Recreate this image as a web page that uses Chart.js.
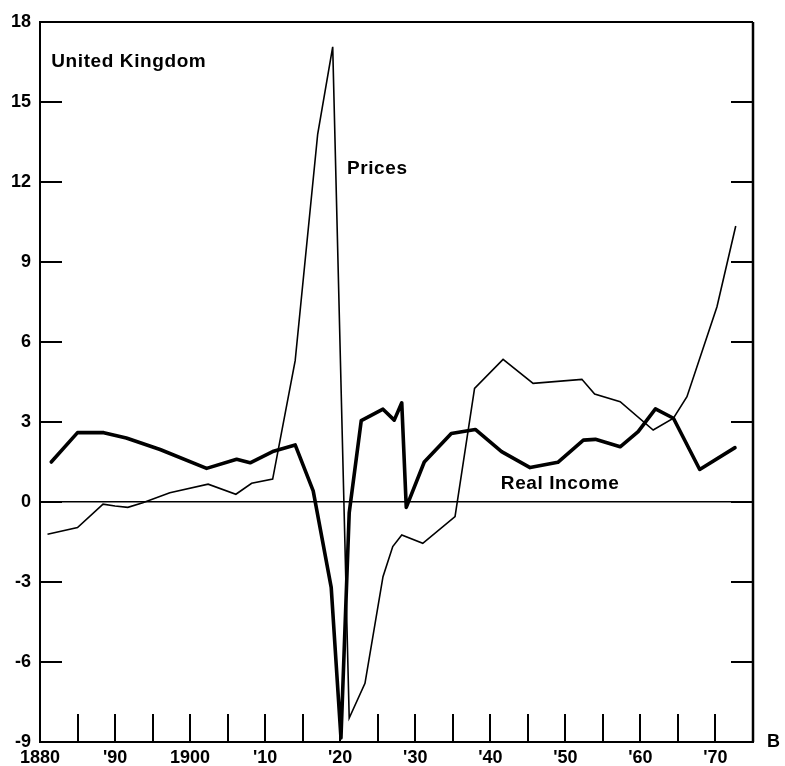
<!DOCTYPE html>
<html>
<head>
<meta charset="utf-8">
<title>United Kingdom — Prices and Real Income</title>
<script src="https://cdn.jsdelivr.net/npm/chart.js@4.4.1/dist/chart.umd.min.js"></script>
<style>
  html, body { margin: 0; padding: 0; background: #fff; }
  canvas { display: block; }
</style>
</head>
<body>
<canvas id="chart" width="785" height="766"></canvas>
<script>
// Annual rates of change (per cent), United Kingdom, 1880–1975.
const realIncomeYears = [1881.5, 1885, 1888.5, 1891.5, 1896, 1902.2, 1906.2, 1908, 1911, 1914,
  1916.4, 1918.8, 1920.1, 1921.2, 1922.8, 1925.7, 1927.2, 1928.2, 1928.8, 1931.2,
  1934.8, 1938, 1941.5, 1945.3, 1949, 1952.4, 1954, 1957.3, 1959.7, 1962,
  1964.4, 1967.9, 1972.6];
const realIncomeValues = [1.5, 2.6, 2.6, 2.4, 1.97, 1.26, 1.6, 1.47, 1.89, 2.14,
  0.42, -3.2, -8.85, -0.4, 3.05, 3.48, 3.07, 3.72, -0.2, 1.5,
  2.57, 2.72, 1.89, 1.29, 1.49, 2.32, 2.35, 2.07, 2.64, 3.49,
  3.14, 1.22, 2.04];

const pricesYears = [1881, 1885, 1888.4, 1890, 1891.7, 1893.7, 1897.3, 1902.4, 1906.1, 1908.2,
  1911, 1914, 1917, 1919, 1921.2, 1923.3, 1925.7, 1927, 1928.2, 1931,
  1935.3, 1937.9, 1941.7, 1945.7, 1952.2, 1953.9, 1957.3, 1961.7, 1964.4, 1966.2,
  1970.2, 1972.7];
const pricesValues = [-1.21, -0.96, -0.08, -0.15, -0.2, -0.03, 0.35, 0.67, 0.29, 0.7,
  0.86, 5.3, 13.8, 17.07, -8.1, -6.8, -2.8, -1.67, -1.24, -1.55,
  -0.55, 4.26, 5.35, 4.45, 4.6, 4.05, 3.76, 2.7, 3.14, 3.95,
  7.32, 10.35];

// Axis ticks
const xLabelYears = [1880, 1890, 1900, 1910, 1920, 1930, 1940, 1950, 1960, 1970];
const xLabels = ['1880', "'90", '1900', "'10", "'20", "'30", "'40", "'50", "'60", "'70"];
const xMarkYears = [1885, 1890, 1895, 1900, 1905, 1910, 1915, 1920, 1925, 1930,
  1935, 1940, 1945, 1950, 1955, 1960, 1965, 1970];
const yTickValues = [-9, -6, -3, 0, 3, 6, 9, 12, 15, 18];

// Text placed on the plot, anchored in data units
const notes = [
  { text: 'United Kingdom', x: 1881.5, y: 16.5 },
  { text: 'Prices', x: 1920.9, y: 12.5 },
  { text: 'Real Income', x: 1941.4, y: 0.68 }
];

const FONT = '"Liberation Sans", Arial, Helvetica, sans-serif';

const toPoints = (xs, ys) => xs.map((x, i) => ({ x, y: ys[i] }));

// Frame, inward tick marks and text notes
const framePlugin = {
  id: 'frame',
  afterDatasetsDraw(chart) {
    const { ctx, chartArea: a, scales } = chart;
    const xs = scales.x, ys = scales.y;
    ctx.save();
    ctx.strokeStyle = '#000';
    ctx.lineCap = 'butt';

    // top and right edges
    ctx.lineWidth = 2;
    ctx.beginPath();
    ctx.moveTo(a.left, a.top);
    ctx.lineTo(a.right, a.top);
    ctx.stroke();
    ctx.lineWidth = 2.5;
    ctx.beginPath();
    ctx.moveTo(a.right, a.top);
    ctx.lineTo(a.right, a.bottom);
    ctx.stroke();

    // inward ticks on both vertical axes
    ctx.lineWidth = 2;
    yTickValues.forEach(v => {
      if (v === ys.min || v === ys.max) return;
      const py = Math.round(ys.getPixelForValue(v));
      ctx.beginPath();
      ctx.moveTo(a.left, py);
      ctx.lineTo(a.left + 22, py);
      ctx.moveTo(a.right, py);
      ctx.lineTo(a.right - 22, py);
      ctx.stroke();
    });

    // inward ticks along the bottom axis
    xMarkYears.forEach(yr => {
      const px = Math.round(xs.getPixelForValue(yr));
      ctx.beginPath();
      ctx.moveTo(px, a.bottom);
      ctx.lineTo(px, a.bottom - 28);
      ctx.stroke();
    });

    // notes
    ctx.fillStyle = '#000';
    ctx.font = 'bold 19px ' + FONT;
    ctx.textAlign = 'left';
    ctx.textBaseline = 'middle';
    if ('letterSpacing' in ctx) ctx.letterSpacing = '0.6px';
    notes.forEach(n => {
      ctx.fillText(n.text, xs.getPixelForValue(n.x), ys.getPixelForValue(n.y));
    });

    // axis letter at the lower right
    ctx.font = 'bold 18px ' + FONT;
    if ('letterSpacing' in ctx) ctx.letterSpacing = '0px';
    ctx.fillText('B', a.right + 14, a.bottom);
    ctx.restore();
  }
};

new Chart(document.getElementById('chart'), {
  type: 'scatter',
  data: {
    datasets: [
      {
        label: 'Prices',
        data: toPoints(pricesYears, pricesValues),
        showLine: true,
        borderColor: '#000',
        borderWidth: 1.6,
        pointRadius: 0,
        borderJoinStyle: 'miter',
        tension: 0
      },
      {
        label: 'Real Income',
        data: toPoints(realIncomeYears, realIncomeValues),
        showLine: true,
        borderColor: '#000',
        borderWidth: 3.6,
        pointRadius: 0,
        borderJoinStyle: 'round',
        borderCapStyle: 'round',
        tension: 0
      }
    ]
  },
  options: {
    responsive: false,
    animation: false,
    devicePixelRatio: 1,
    layout: { padding: { top: 22, right: 32, left: 0, bottom: 0 } },
    plugins: {
      legend: { display: false },
      tooltip: { enabled: false },
      title: { display: false }
    },
    scales: {
      x: {
        type: 'linear',
        min: 1880,
        max: 1975,
        afterBuildTicks(scale) {
          scale.ticks = xLabelYears.map(v => ({ value: v }));
        },
        afterFit(scale) { scale.height = 24; },
        grid: { display: false, drawTicks: false },
        border: { display: true, color: '#000', width: 2 },
        ticks: {
          autoSkip: false,
          maxRotation: 0,
          padding: 5,
          color: '#000',
          font: { family: FONT, size: 18, weight: 'bold' },
          callback(value) {
            const i = xLabelYears.indexOf(value);
            return i >= 0 ? xLabels[i] : '';
          }
        }
      },
      y: {
        type: 'linear',
        min: -9,
        max: 18,
        afterBuildTicks(scale) {
          scale.ticks = yTickValues.map(v => ({ value: v }));
        },
        afterFit(scale) { scale.width = 40; },
        grid: {
          drawTicks: false,
          color: c => (c.tick && c.tick.value === 0 ? '#000' : 'rgba(0,0,0,0)'),
          lineWidth: 1.6
        },
        border: { display: true, color: '#000', width: 2 },
        ticks: {
          padding: 9,
          color: '#000',
          font: { family: FONT, size: 18, weight: 'bold' },
          callback: v => String(v)
        }
      }
    }
  },
  plugins: [framePlugin]
});
</script>
</body>
</html>
